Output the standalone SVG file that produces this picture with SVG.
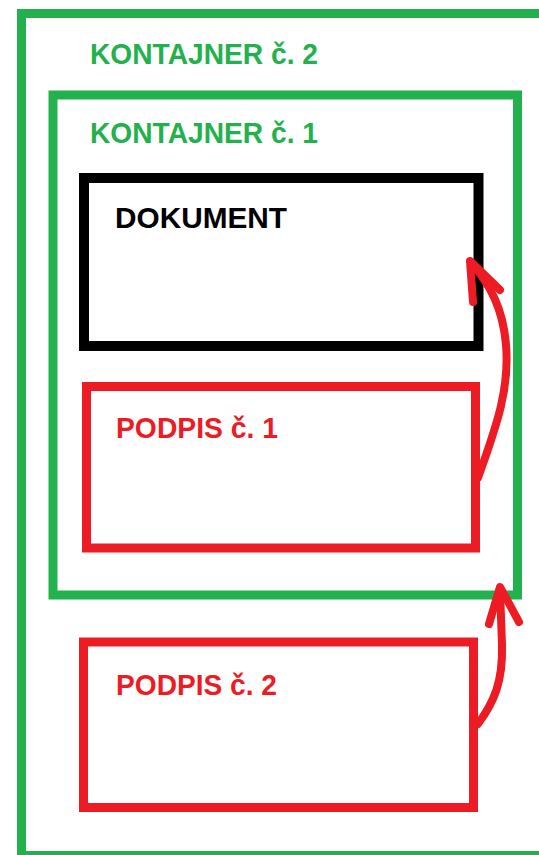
<svg xmlns="http://www.w3.org/2000/svg" width="539" height="855" viewBox="0 0 539 855">
  <style>
    .box { fill: none; stroke-width: 9; stroke-linejoin: miter; }
    .green { stroke: #22B14C; }
    .red { stroke: #ED1C24; }
    .black { stroke: #000000; }
    .label { font-family: "Liberation Sans", Arial, sans-serif; font-weight: bold; font-size: 30px; }
    .lg { fill: #22B14C; }
    .lr { fill: #ED1C24; }
    .lk { fill: #000000; }
    .arrow { fill: none; stroke: #ED1C24; stroke-width: 8; stroke-linecap: round; stroke-linejoin: round; }
  </style>
  <rect width="539" height="855" fill="#ffffff"/>

  <g id="kontajner2">
    <rect class="box green" x="21.5" y="13.5" width="540" height="842"/>
    <text class="label lg" x="90" y="64" textLength="228" lengthAdjust="spacingAndGlyphs">KONTAJNER č. 2</text>
  </g>

  <g id="kontajner1">
    <rect class="box green" x="53" y="95" width="464.5" height="500"/>
    <text class="label lg" x="90" y="143" textLength="228" lengthAdjust="spacingAndGlyphs">KONTAJNER č. 1</text>
  </g>

  <g id="dokument">
    <rect class="box black" x="84" y="178" width="394.5" height="168" style="stroke-width:10"/>
    <text class="label lk" x="115" y="228" textLength="172" lengthAdjust="spacingAndGlyphs">DOKUMENT</text>
  </g>

  <g id="podpis1">
    <rect class="box red" x="86.5" y="386.5" width="389" height="161.5"/>
    <text class="label lr" x="116" y="438" textLength="162" lengthAdjust="spacingAndGlyphs">PODPIS č. 1</text>
  </g>

  <g id="podpis2">
    <rect class="box red" x="83.5" y="642" width="390" height="165.5"/>
    <text class="label lr" x="116" y="695" textLength="161" lengthAdjust="spacingAndGlyphs">PODPIS č. 2</text>
  </g>

  <g id="connectors">
    <!-- signature 1 -> document -->
    <path class="arrow" d="M 478 478 C 494 432, 510 392, 506 345 C 503 308, 490 285, 471 262"/>
    <path class="arrow" d="M 473 302 L 470 261 L 500 290"/>
    <!-- signature 2 -> container 1 -->
    <path class="arrow" d="M 478 724 C 494 702, 503 682, 502 645 L 500 590"/>
    <path class="arrow" d="M 489 624 L 500 587 L 519 622"/>
  </g>
</svg>
